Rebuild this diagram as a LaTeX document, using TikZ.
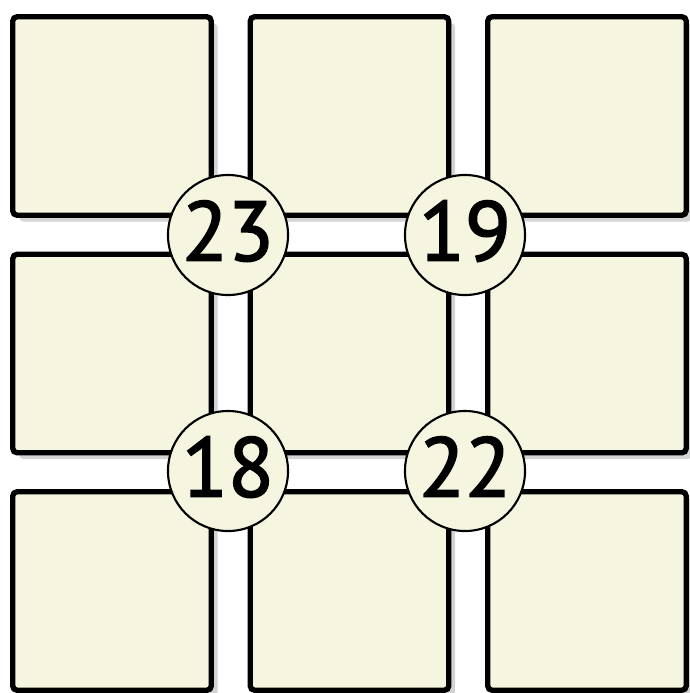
\documentclass[tikz,border=0pt]{standalone}
\usepackage{fontspec}
\setmainfont{PT Sans}
\newfontfamily\sumfont{PT Sans}[FakeBold=2]
\usetikzlibrary{shadows}
\definecolor{cream}{RGB}{246,246,224}
\newcommand{\sumtext}[1]{\raisebox{0.22cm}{#1}}
\begin{document}
\begin{tikzpicture}[x=0.025cm, y=-0.025cm,
    tile/.style={draw, line width=3.8pt, fill=cream, rounded corners=3pt,
      minimum size=4.96cm, inner sep=0pt,
      drop shadow={shadow xshift=4.5pt, shadow yshift=-4.5pt, opacity=0.35}},
    sum/.style={circle, draw, line width=1.5pt, fill=cream, minimum size=3cm,
      inner sep=0pt, font=\sumfont\fontsize{60}{62}\selectfont}]
  \useasboundingbox (0,0) rectangle (690,693);
  % grid of tiles
  \foreach \r/\yy in {0/116, 1/353.5, 2/591}
    \foreach \c/\xx in {0/112, 1/349.5, 2/587}
      \node[tile] (t\r\c) at (\xx,\yy) {};
  % sums at the crossings
  \node[sum] (s23) at (228,235) {\sumtext{23}};
  \node[sum] (s19) at (465,235) {\sumtext{19}};
  \node[sum] (s18) at (228,471) {\sumtext{18}};
  \node[sum] (s22) at (465,471) {\sumtext{22}};
\end{tikzpicture}
\end{document}
